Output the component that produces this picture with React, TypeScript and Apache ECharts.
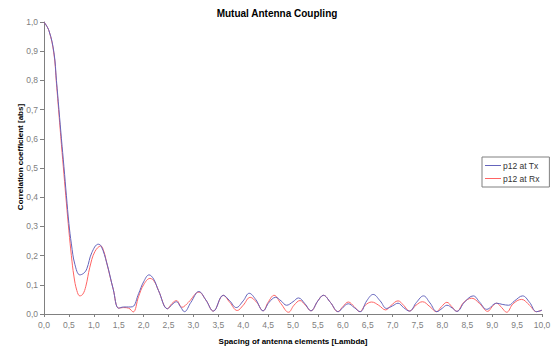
import React, { useEffect, useRef } from "react";
import * as echarts from "echarts";

const TITLE = "Mutual Antenna Coupling";
const X_NAME = "Spacing of antenna elements [Lambda]";
const Y_NAME = "Correlation coefficient [abs]";
const SERIES_NAMES = ["p12 at Tx", "p12 at Rx"];

// Spacing [lambda] and correlation at Tx
const txX = [0, 0.1, 0.2, 0.25, 0.3, 0.35, 0.4, 0.45, 0.5, 0.55, 0.62, 0.72, 0.8, 0.86, 0.96, 1.09, 1.15, 1.26, 1.39, 1.5, 1.6, 1.7, 1.78, 1.9, 2.0, 2.11, 2.2, 2.3, 2.48, 2.57, 2.66, 2.74, 2.82, 2.95, 3.11, 3.25, 3.4, 3.6, 3.73, 3.86, 4.0, 4.12, 4.25, 4.4, 4.52, 4.65, 4.76, 4.87, 5.0, 5.11, 5.24, 5.36, 5.5, 5.61, 5.75, 5.91, 6.0, 6.11, 6.23, 6.35, 6.48, 6.61, 6.75, 6.88, 7.0, 7.11, 7.22, 7.34, 7.48, 7.62, 7.75, 7.89, 8.0, 8.09, 8.2, 8.29, 8.45, 8.62, 8.75, 8.89, 9.09, 9.2, 9.33, 9.45, 9.61, 9.75, 9.89, 10.0];
const txY = [1.0, 0.97, 0.895, 0.8, 0.7, 0.6, 0.505, 0.405, 0.31, 0.24, 0.17, 0.134, 0.14, 0.155, 0.21, 0.239, 0.232, 0.175, 0.085, 0.02, 0.024, 0.024, 0.025, 0.07, 0.11, 0.134, 0.12, 0.08, 0.018, 0.032, 0.042, 0.025, 0.008, 0.04, 0.077, 0.048, 0.01, 0.064, 0.045, 0.022, 0.045, 0.071, 0.05, 0.011, 0.04, 0.057, 0.045, 0.03, 0.042, 0.055, 0.035, 0.011, 0.045, 0.064, 0.04, 0.008, 0.022, 0.035, 0.022, 0.008, 0.045, 0.067, 0.045, 0.019, 0.028, 0.037, 0.022, 0.01, 0.04, 0.062, 0.038, 0.008, 0.02, 0.03, 0.02, 0.009, 0.042, 0.062, 0.04, 0.016, 0.037, 0.033, 0.03, 0.045, 0.062, 0.04, 0.008, 0.013];

// Spacing [lambda] and correlation at Rx
const rxX = [0, 0.1, 0.2, 0.25, 0.3, 0.35, 0.4, 0.45, 0.5, 0.55, 0.6, 0.66, 0.72, 0.78, 0.84, 0.92, 1.02, 1.14, 1.2, 1.26, 1.39, 1.5, 1.6, 1.7, 1.79, 1.9, 2.0, 2.13, 2.22, 2.3, 2.48, 2.57, 2.66, 2.77, 2.9, 3.11, 3.25, 3.4, 3.6, 3.73, 3.88, 4.0, 4.14, 4.27, 4.4, 4.5, 4.62, 4.76, 4.91, 5.02, 5.14, 5.25, 5.36, 5.5, 5.61, 5.75, 5.9, 6.0, 6.11, 6.23, 6.34, 6.45, 6.58, 6.72, 6.86, 6.96, 7.11, 7.22, 7.34, 7.47, 7.6, 7.75, 7.88, 7.98, 8.09, 8.19, 8.29, 8.43, 8.59, 8.75, 8.91, 9.0, 9.09, 9.19, 9.29, 9.42, 9.59, 9.75, 9.89, 10.0];
const rxY = [1.0, 0.97, 0.89, 0.79, 0.685, 0.58, 0.48, 0.38, 0.285, 0.2, 0.13, 0.08, 0.062, 0.068, 0.095, 0.16, 0.213, 0.233, 0.215, 0.175, 0.085, 0.02, 0.022, 0.02, 0.007, 0.06, 0.1, 0.122, 0.11, 0.08, 0.018, 0.036, 0.046, 0.023, 0.04, 0.075, 0.048, 0.01, 0.064, 0.04, 0.012, 0.03, 0.057, 0.04, 0.011, 0.04, 0.064, 0.035, 0.006, 0.03, 0.046, 0.03, 0.011, 0.045, 0.064, 0.04, 0.008, 0.025, 0.041, 0.025, 0.008, 0.03, 0.041, 0.03, 0.014, 0.028, 0.045, 0.03, 0.01, 0.03, 0.042, 0.025, 0.008, 0.025, 0.04, 0.025, 0.009, 0.04, 0.054, 0.035, 0.009, 0.025, 0.037, 0.022, 0.006, 0.035, 0.05, 0.03, 0.008, 0.013];

const COLORS = ["#6464bc", "#ff6464"];
const FONT = "'Liberation Sans', Arial, sans-serif";

const fmt = (v: number) => v.toFixed(1).replace(".", ",");

export default function App() {
  const ref = useRef<HTMLDivElement>(null);
  useEffect(() => {
    if (!ref.current) return;
    const chart = echarts.init(ref.current, undefined, { renderer: "svg" });
    chart.setOption({
      animation: false,
      backgroundColor: "#ffffff",
      textStyle: { fontFamily: FONT },
      title: {
        text: TITLE,
        left: "center",
        top: 3,
        textStyle: { fontSize: 10, fontWeight: "bold", color: "#000", fontFamily: FONT },
      },
      grid: { left: 44, right: 12, top: 22, bottom: 38 },
      legend: {
        orient: "vertical",
        left: 482,
        top: 157,
        width: 66,
        padding: [4, 10, 4, 3],
        borderColor: "#808080",
        borderWidth: 1,
        itemWidth: 16,
        itemHeight: 1,
        itemGap: 4,
        icon: "rect",
        textStyle: { fontSize: 8.5, color: "#333", fontFamily: FONT, padding: [0, 0, 0, -3] },
        data: SERIES_NAMES,
      },
      xAxis: {
        type: "value",
        min: 0,
        max: 10,
        interval: 0.5,
        splitLine: { show: false },
        axisLine: { lineStyle: { color: "#808080", width: 1 } },
        axisTick: { show: true, length: 3, lineStyle: { color: "#808080" } },
        axisLabel: { fontSize: 8.5, color: "#808080", margin: 6, formatter: fmt, fontFamily: FONT },
      },
      yAxis: {
        type: "value",
        min: 0,
        max: 1,
        interval: 0.1,
        splitLine: { show: false },
        axisLine: { show: true, lineStyle: { color: "#808080", width: 1 } },
        axisTick: { show: true, length: 4, lineStyle: { color: "#808080" } },
        axisLabel: { fontSize: 8.5, color: "#808080", margin: 6, formatter: fmt, fontFamily: FONT },
      },
      graphic: [
        {
          type: "text",
          x: 293,
          y: 341,
          style: {
            text: X_NAME,
            font: `bold 8px ${FONT}`,
            fill: "#000",
            align: "center",
            verticalAlign: "middle",
          },
        },
        {
          type: "text",
          x: 20,
          y: 157,
          rotation: Math.PI / 2,
          style: {
            text: Y_NAME,
            font: `bold 8px ${FONT}`,
            fill: "#000",
            align: "center",
            verticalAlign: "middle",
          },
        },
      ],
      series: [
        {
          name: SERIES_NAMES[0],
          type: "line",
          data: txX.map((x, i) => [x, txY[i]]),
          smooth: 0.4,
          showSymbol: false,
          symbol: "none",
          lineStyle: { color: COLORS[0], width: 1 },
          itemStyle: { color: COLORS[0] },
          z: 3,
        },
        {
          name: SERIES_NAMES[1],
          type: "line",
          data: rxX.map((x, i) => [x, rxY[i]]),
          smooth: 0.4,
          showSymbol: false,
          symbol: "none",
          lineStyle: { color: COLORS[1], width: 1 },
          itemStyle: { color: COLORS[1] },
          z: 2,
        },
      ],
    });
    return () => chart.dispose();
  }, []);
  return <div ref={ref} style={{ width: 554, height: 352, position: "absolute", left: 0, top: 0 }} />;
}
